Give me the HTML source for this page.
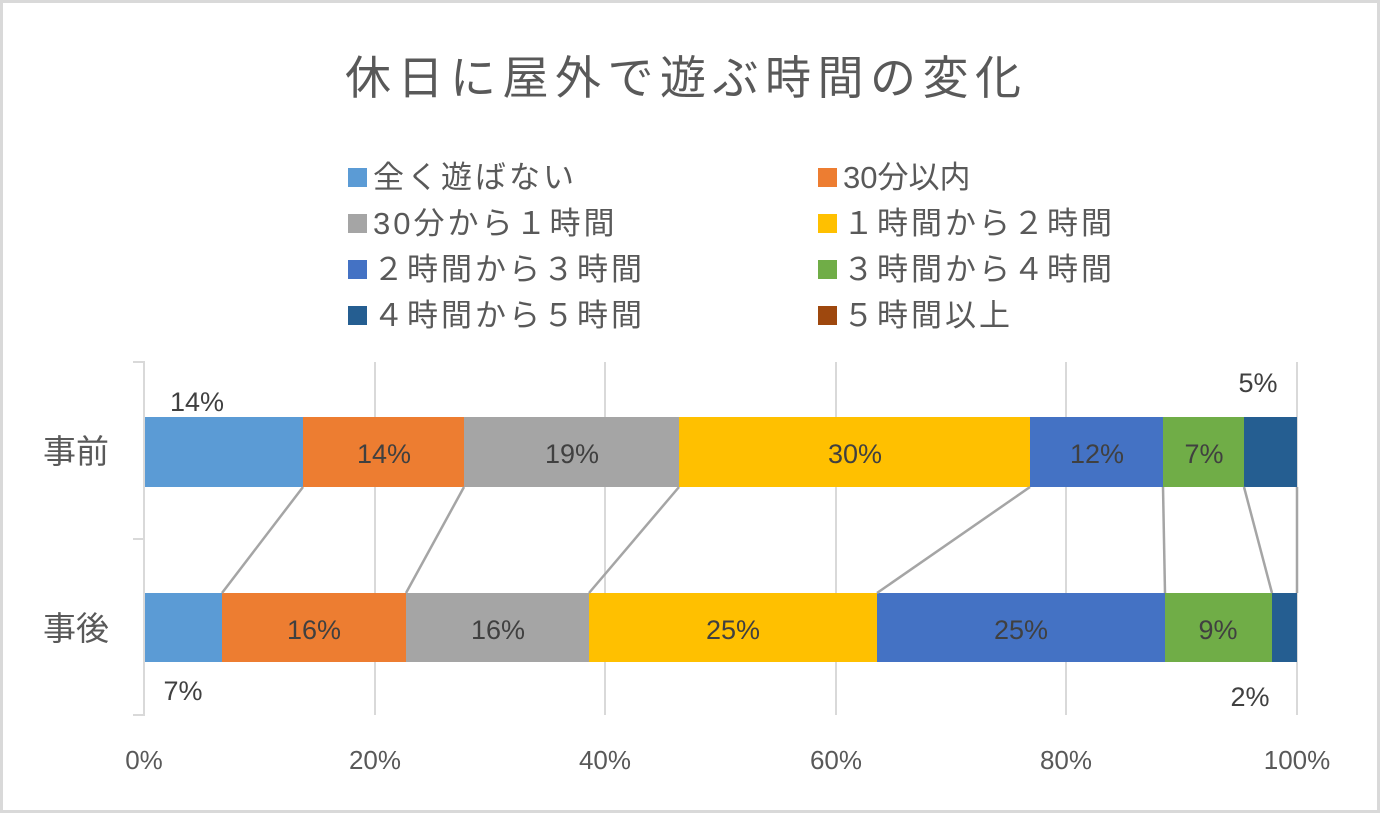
<!DOCTYPE html>
<html><head><meta charset="utf-8"><style>
html,body{margin:0;padding:0;background:#fff}
svg{display:block}
text{font-family:"Liberation Sans","Noto Sans CJK JP",sans-serif}
</style></head><body>
<svg width="1380" height="813" viewBox="0 0 1380 813" xmlns="http://www.w3.org/2000/svg">
<rect x="1.5" y="1.5" width="1377" height="810" fill="#fff" stroke="#d9d9d9" stroke-width="3"/>
<text x="345" y="94" font-size="46" letter-spacing="6.5" fill="#595959">休日に屋外で遊ぶ時間の変化</text>
<g font-size="31" letter-spacing="3" fill="#595959">
<rect x="348" y="168" width="19" height="19" fill="#5b9bd5"/><text x="373" y="188">全く遊ばない</text>
<rect x="818" y="168" width="19" height="19" fill="#ed7d31"/><text x="843" y="188" letter-spacing="0">30分以内</text>
<rect x="348" y="214" width="19" height="19" fill="#a5a5a5"/><text x="373" y="234">30分から１時間</text>
<rect x="818" y="214" width="19" height="19" fill="#ffc000"/><text x="843" y="234">１時間から２時間</text>
<rect x="348" y="260" width="19" height="19" fill="#4472c4"/><text x="373" y="280">２時間から３時間</text>
<rect x="818" y="260" width="19" height="19" fill="#70ad47"/><text x="843" y="280">３時間から４時間</text>
<rect x="348" y="306" width="19" height="19" fill="#255e91"/><text x="373" y="326">４時間から５時間</text>
<rect x="818" y="306" width="19" height="19" fill="#9e480e"/><text x="843" y="326">５時間以上</text>
</g>
<g stroke="#d9d9d9" stroke-width="2">
<line x1="375" y1="362" x2="375" y2="715"/><line x1="605" y1="362" x2="605" y2="715"/>
<line x1="836" y1="362" x2="836" y2="715"/><line x1="1066" y1="362" x2="1066" y2="715"/>
<line x1="1297" y1="362" x2="1297" y2="715"/>
<polyline fill="none" points="133,362 144,362 144,715 133,715"/><line x1="133" y1="539" x2="144" y2="539"/>
</g>
<g>
<rect x="145" y="417" width="158" height="70" fill="#5b9bd5"/>
<rect x="303" y="417" width="161" height="70" fill="#ed7d31"/>
<rect x="464" y="417" width="215" height="70" fill="#a5a5a5"/>
<rect x="679" y="417" width="351" height="70" fill="#ffc000"/>
<rect x="1030" y="417" width="133" height="70" fill="#4472c4"/>
<rect x="1163" y="417" width="81" height="70" fill="#70ad47"/>
<rect x="1244" y="417" width="53" height="70" fill="#255e91"/>
<rect x="145" y="593" width="77" height="69" fill="#5b9bd5"/>
<rect x="222" y="593" width="184" height="69" fill="#ed7d31"/>
<rect x="406" y="593" width="183" height="69" fill="#a5a5a5"/>
<rect x="589" y="593" width="288" height="69" fill="#ffc000"/>
<rect x="877" y="593" width="288" height="69" fill="#4472c4"/>
<rect x="1165" y="593" width="107" height="69" fill="#70ad47"/>
<rect x="1272" y="593" width="25" height="69" fill="#255e91"/>
</g>
<g stroke="#a5a5a5" stroke-width="2.5">
<line x1="303" y1="487" x2="222" y2="593"/><line x1="464" y1="487" x2="406" y2="593"/>
<line x1="679" y1="487" x2="589" y2="593"/><line x1="1030" y1="487" x2="877" y2="593"/>
<line x1="1163" y1="487" x2="1165" y2="593"/><line x1="1244" y1="487" x2="1272" y2="593"/>
<line x1="1297" y1="487" x2="1297" y2="593"/>
</g>
<g font-size="27" fill="#404040" text-anchor="middle">
<text x="384" y="463">14%</text><text x="572" y="463">19%</text><text x="855" y="463">30%</text>
<text x="1097" y="463">12%</text><text x="1204" y="463">7%</text>
<text x="314" y="639">16%</text><text x="498" y="639">16%</text><text x="733" y="639">25%</text>
<text x="1021" y="639">25%</text><text x="1218" y="639">9%</text>
<text x="197" y="411">14%</text><text x="1258" y="392">5%</text>
<text x="183" y="700">7%</text><text x="1250" y="706">2%</text>
</g>
<g font-size="33" fill="#595959" text-anchor="middle">
<text x="76" y="463">事前</text><text x="76" y="640">事後</text>
</g>
<g font-size="26" fill="#595959" text-anchor="middle">
<text x="144" y="769">0%</text><text x="375" y="769">20%</text><text x="605" y="769">40%</text>
<text x="836" y="769">60%</text><text x="1066" y="769">80%</text><text x="1297" y="769">100%</text>
</g>
</svg>
</body></html>
